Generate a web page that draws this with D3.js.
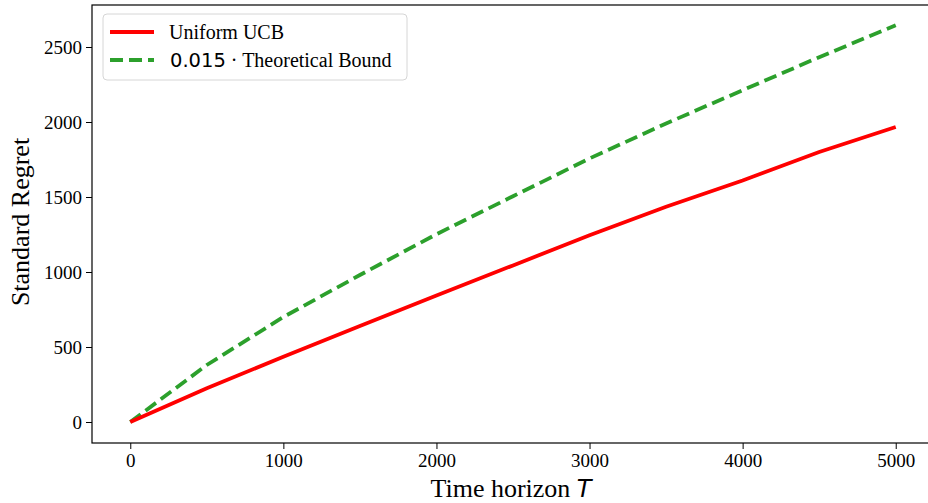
<!DOCTYPE html>
<html>
<head>
<meta charset="utf-8">
<script src="https://cdn.jsdelivr.net/npm/d3@7"></script>
<style>
  body { margin: 0; background: #fff; }
  svg { display: block; }
  .tick text { font-family: "Liberation Serif", serif; font-size: 19px; fill: #000; }
</style>
</head>
<body>
<script>
// data
var horizon = [0, 500, 1000, 1500, 2000, 2500, 3000, 3500, 4000, 4500, 5000];
var uniformUCB = [0, 225, 435, 640, 843, 1044, 1245, 1435, 1610, 1800, 1967];
var theoreticalBound = [0, 380, 700, 980, 1252, 1505, 1757, 1990, 2212, 2432, 2645];
var xTicks = [0, 1000, 2000, 3000, 4000, 5000];
var yTicks = [0, 500, 1000, 1500, 2000, 2500];

function init() {
    var w = 928;
    var h = 503;
    var plotLeft = 92, plotRight = 934, plotTop = 5, plotBottom = 443;

    var svg = d3.select("body")
                .append("svg")
                .attr("width", w)
                .attr("height", h);

    var xScale = d3.scaleLinear()
                    .domain([-250, 5250])
                    .range([plotLeft, plotRight]);

    var yScale = d3.scaleLinear()
                    .domain([-140, 2780])
                    .range([plotBottom, plotTop]);

    // frame
    svg.append("rect")
        .attr("x", plotLeft)
        .attr("y", plotTop)
        .attr("width", plotRight - plotLeft)
        .attr("height", plotBottom - plotTop)
        .attr("fill", "none")
        .attr("stroke", "#000")
        .attr("stroke-width", 1.2);

    // X Axis
    var xAxis = d3.axisBottom(xScale)
                    .tickValues(xTicks)
                    .tickFormat(d3.format("d"))
                    .tickSize(6)
                    .tickPadding(5);
    svg.append("g")
        .attr("transform", "translate(0," + plotBottom + ")")
        .call(xAxis)
        .call(function (g) { g.select(".domain").remove(); });

    // Y Axis
    var yAxis = d3.axisLeft(yScale)
                    .tickValues(yTicks)
                    .tickFormat(d3.format("d"))
                    .tickSize(6)
                    .tickPadding(4);
    svg.append("g")
        .attr("transform", "translate(" + plotLeft + ",0)")
        .call(yAxis)
        .call(function (g) { g.select(".domain").remove(); });

    svg.selectAll(".tick line").attr("stroke", "#000").attr("stroke-width", 1);

    var line = d3.line()
                .x(function (d, i) { return xScale(horizon[i]); })
                .y(function (d) { return yScale(d); });

    // bound (dashed green)
    svg.append("path")
        .datum(theoreticalBound)
        .attr("d", line)
        .attr("fill", "none")
        .attr("stroke", "#2ca02c")
        .attr("stroke-width", 3.8)
        .attr("stroke-dasharray", "13,6");

    // uniform UCB (red)
    svg.append("path")
        .datum(uniformUCB)
        .attr("d", line)
        .attr("fill", "none")
        .attr("stroke", "#ff0000")
        .attr("stroke-width", 3.8);

    // legend
    var legend = svg.append("g");
    legend.append("rect")
        .attr("x", 103)
        .attr("y", 14)
        .attr("width", 304)
        .attr("height", 66)
        .attr("rx", 4)
        .attr("fill", "#fff")
        .attr("fill-opacity", 0.8)
        .attr("stroke", "#d6d6d6");

    legend.append("line")
        .attr("x1", 110).attr("x2", 154)
        .attr("y1", 32).attr("y2", 32)
        .attr("stroke", "#ff0000")
        .attr("stroke-width", 3.8);

    legend.append("line")
        .attr("x1", 110).attr("x2", 154)
        .attr("y1", 60).attr("y2", 60)
        .attr("stroke", "#2ca02c")
        .attr("stroke-width", 3.8)
        .attr("stroke-dasharray", "13,6");

    legend.append("text")
        .attr("x", 169)
        .attr("y", 39)
        .style("font-family", "Liberation Serif, serif")
        .style("font-size", "20px")
        .text("Uniform UCB");

    var t2 = legend.append("text")
        .attr("x", 170)
        .attr("y", 67)
        .style("font-size", "20px");
    t2.append("tspan")
        .style("font-family", "DejaVu Sans, sans-serif")
        .style("font-size", "19.5px")
        .text("0.015");
    t2.append("tspan")
        .style("font-family", "Liberation Serif, serif")
        .text(" \u00b7 Theoretical Bound");

    // X Axis Label
    var xl = svg.append("text")
        .attr("text-anchor", "middle")
        .attr("x", 511)
        .attr("y", 497)
        .style("font-family", "Liberation Serif, serif")
        .style("font-size", "26px");
    xl.append("tspan").text("Time horizon ");
    xl.append("tspan")
        .style("font-family", "DejaVu Sans, sans-serif")
        .style("font-style", "italic")
        .style("font-size", "24px")
        .text("T");

    // Y Axis Label
    svg.append("text")
        .attr("text-anchor", "middle")
        .attr("transform", "rotate(-90)")
        .attr("x", -222)
        .attr("y", 29)
        .style("font-family", "Liberation Serif, serif")
        .style("font-size", "26px")
        .text("Standard Regret");
}
window.onload = init;
</script>
</body>
</html>
